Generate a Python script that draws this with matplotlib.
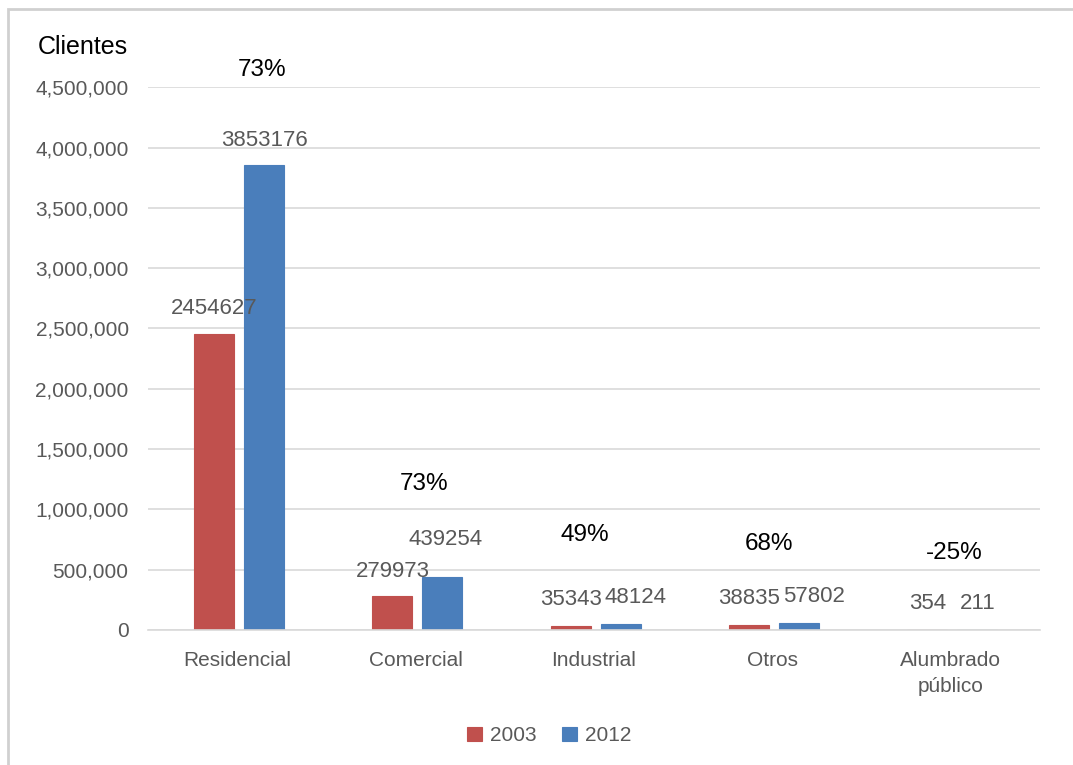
import numpy as np
import matplotlib
matplotlib.use("Agg")
import matplotlib.pyplot as plt
from matplotlib.patches import Rectangle
from matplotlib.ticker import FuncFormatter

# clientes por sector, 2003 vs 2012
sectores = ["Residencial", "Comercial", "Industrial", "Otros", "Alumbrado\npúblico"]
clientes_2003 = [2454627, 279973, 35343, 38835, 354]
clientes_2012 = [3853176, 439254, 48124, 57802, 211]
variacion = ["73%", "73%", "49%", "68%", "-25%"]

# where the growth labels sit (data units)
var_y = [4.64e6, 1.21e6, 0.79e6, 0.71e6, 0.64e6]
var_dx = [0.14, 0.05, -0.05, -0.02, 0.02]
# nudges for the value labels (points)
lift_2003 = [18, 18, 19, 19, 19]
lift_2012 = [18, 27, 19, 19, 19]
shift_2012 = [0, 2, 11, 11, 0]

plt.rcParams['font.family'] = ['Liberation Sans', 'DejaVu Sans']

RED = "#C0504D"
BLUE = "#4A7EBB"
GREY = "#595959"

fig = plt.figure(figsize=(10.73, 7.65), dpi=100)
ax = fig.add_axes([0.138, 0.1765, 0.831, 0.7095])

x = np.arange(len(sectores))
w = 0.225
off = 0.14
b1 = ax.bar(x - off + 0.01, clientes_2003, w, color=RED, edgecolor=RED,
            lw=0.8, label="2003")
b2 = ax.bar(x + off + 0.01, clientes_2012, w, color=BLUE, edgecolor=BLUE,
            lw=0.8, label="2012")

for rect, v, dy in zip(b1, clientes_2003, lift_2003):
    ax.annotate(str(v), (rect.get_x() + rect.get_width() / 2, v),
                xytext=(0, dy), textcoords="offset points",
                ha="center", va="center", fontsize=16, color=GREY)
for rect, v, dy, dx in zip(b2, clientes_2012, lift_2012, shift_2012):
    ax.annotate(str(v), (rect.get_x() + rect.get_width() / 2, v),
                xytext=(dx, dy), textcoords="offset points",
                ha="center", va="center", fontsize=16, color=GREY)

for xi, lab, yy, dx in zip(x, variacion, var_y, var_dx):
    ax.text(xi + dx, yy, lab, ha="center", va="center", fontsize=17.5,
            color="black", clip_on=False)

ax.set_xlim(-0.5, len(sectores) - 0.5)
ax.set_ylim(0, 4.5e6)
ax.set_yticks(np.arange(0, 4.5e6 + 1, 5e5))
ax.yaxis.set_major_formatter(FuncFormatter(lambda v, p: f"{int(v):,}"))
ax.set_xticks(x)
ax.set_xticklabels(sectores, linespacing=1.45)

ax.grid(axis="y", color="#D9D9D9", lw=1.2)
ax.set_axisbelow(True)
for s in ["top", "right", "left"]:
    ax.spines[s].set_visible(False)
ax.spines["bottom"].set_color("#D9D9D9")
ax.spines["bottom"].set_linewidth(1.2)
ax.tick_params(axis="both", length=0, labelsize=15, labelcolor=GREY)
ax.tick_params(axis="y", pad=14)
ax.tick_params(axis="x", pad=15)

fig.text(0.035, 0.938, "Clientes", fontsize=18, color="black",
         ha="left", va="center")

fig.legend(handles=[b1, b2], labels=["2003", "2012"], loc="center",
           bbox_to_anchor=(0.512, 0.038), ncol=2, frameon=False,
           fontsize=15, handlelength=0.7, handleheight=0.7,
           handletextpad=0.4, columnspacing=1.2, labelcolor=GREY)

# chart frame
fig.patches.append(Rectangle((0.0075, -0.1), 1.2, 1.088, transform=fig.transFigure,
                             fill=False, edgecolor="#D0D0D0", lw=2))

fig.savefig("out.png", dpi=100, facecolor="white")
